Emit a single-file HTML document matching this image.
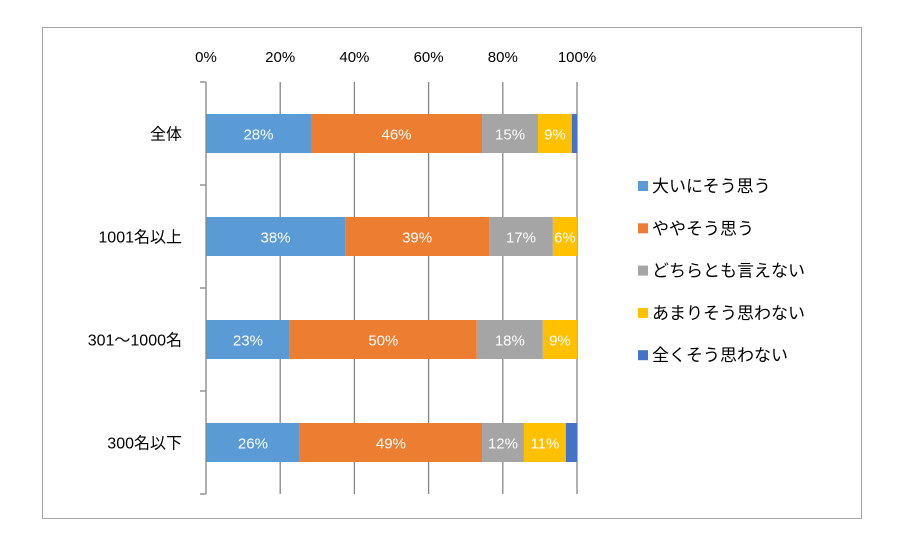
<!DOCTYPE html>
<html><head><meta charset="utf-8"><style>
body{margin:0;background:#fff;font-family:"Liberation Sans","Noto Sans CJK JP",sans-serif;}
svg text{font-family:"Liberation Sans","Noto Sans CJK JP",sans-serif;}
</style></head><body>
<svg id="c" width="900" height="548" xmlns="http://www.w3.org/2000/svg">
<rect x="42.5" y="27.5" width="819" height="491" fill="#fff" stroke="#a6a6a6"/>
<g id="grid"></g>
<g id="bars"></g>
<g id="axes"></g>
<g id="legend"></g>
</svg>
<script>
const categories=["全体","1001名以上","301～1000名","300名以下"];
const seriesNames=["大いにそう思う","ややそう思う","どちらとも言えない","あまりそう思わない","全くそう思わない"];
const s1=[28.3,37.5,22.6,25.3];
const s2=[46.1,38.8,50.4,49.1];
const s3=[15.1,17.2,17.8,11.3];
const s4=[9.1,6.5,9.2,11.3];
const s5=[1.4,0,0,3.0];
const lbl1=["28%","38%","23%","26%"];
const lbl2=["46%","39%","50%","49%"];
const lbl3=["15%","17%","18%","12%"];
const lbl4=["9%","6%","9%","11%"];
const lbl5=["","","",""];
const ticks=[0,20,40,60,80,100];
const colors=["#5b9bd5","#ed7d31","#a5a5a5","#ffc000","#4472c4"];
const NS="http://www.w3.org/2000/svg";
const X0=206,X1=577,Y0=82,Y1=494;
const xs=v=>X0+(X1-X0)*v/100;
const band=(Y1-Y0)/categories.length;
const yc=i=>Y0+band*(i+0.5);
function mk(t,a,p){const e=document.createElementNS(NS,t);for(const k in a)e.setAttribute(k,a[k]);p.appendChild(e);return e;}
const grid=document.getElementById('grid'),bars=document.getElementById('bars'),axes=document.getElementById('axes'),legend=document.getElementById('legend');
ticks.forEach(t=>{
 if(t>0){const l=mk('line',{x1:xs(t),x2:xs(t),y1:Y0,y2:Y1,stroke:'#868686','stroke-width':1.3},grid);
 
 }
 const tx=mk('text',{x:xs(t),y:62,'text-anchor':'middle','font-size':15,fill:'#000'},axes);
 tx.textContent=t+'%';
 
 
});
const ax=mk('line',{x1:X0,x2:X0,y1:Y0,y2:Y1,stroke:'#868686','stroke-width':1.3},axes);


for(let i=0;i<=categories.length;i++){const tk=mk('line',{x1:X0-6,x2:X0,y1:Y0+band*i,y2:Y0+band*i,stroke:'#868686','stroke-width':1.3},axes);
 
 }
const series=[s1,s2,s3,s4,s5],labels=[lbl1,lbl2,lbl3,lbl4,lbl5];
categories.forEach((c,i)=>{
 const t=mk('text',{x:182,y:yc(i)+6,'text-anchor':'end','font-size':16,fill:'#000'},axes);
 t.textContent=c;
 
 
 let acc=0;const h=39;
 series.forEach((s,j)=>{
  const v=s[i];if(v<=0){return;}
  const r=mk('rect',{x:xs(acc),y:yc(i)-h/2,width:xs(acc+v)-xs(acc),height:h,fill:colors[j]},bars);
  
  
  if(labels[j][i]){const tl=mk('text',{x:(xs(acc)+xs(acc+v))/2,y:yc(i)+6,'text-anchor':'middle','font-size':15,fill:'#fff'},bars);
   tl.textContent=labels[j][i];
   
   }
  acc+=v;
 });
});
seriesNames.forEach((n,j)=>{
 const y=186+j*42.3;
 const r=mk('rect',{x:638,y:y-5,width:10,height:10,fill:colors[j]},legend);
 
 
 const t=mk('text',{x:652,y:y+6,'font-size':17,fill:'#000'},legend);
 t.textContent=n;
 
 
});
</script>
</body></html>
